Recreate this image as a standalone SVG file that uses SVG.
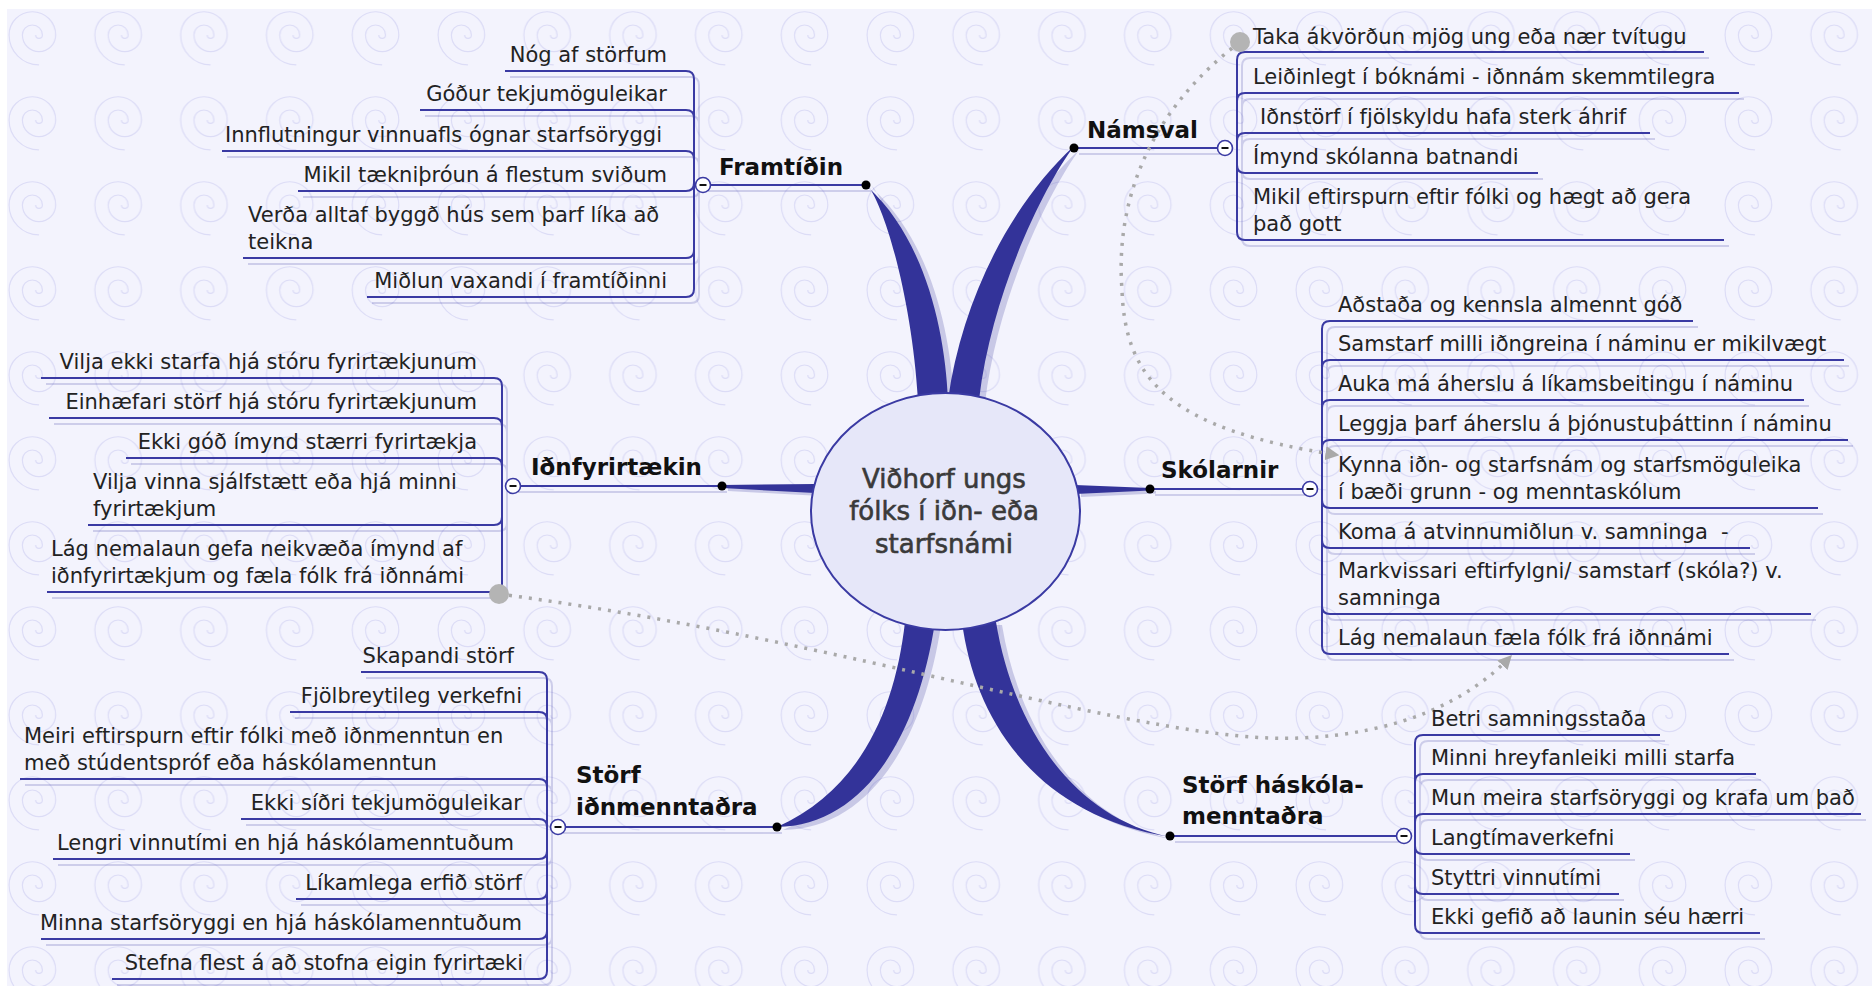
<svg xmlns="http://www.w3.org/2000/svg" xmlns:xlink="http://www.w3.org/1999/xlink" width="1872" height="986" viewBox="0 0 1872 986">
<style>
.sub{font-family:"DejaVu Sans","Liberation Sans",sans-serif;font-size:21px;fill:#222}
.topic{font-family:"DejaVu Sans","Liberation Sans",sans-serif;font-size:23px;font-weight:bold;fill:#111}
.ctr{font-family:"DejaVu Sans","Liberation Sans",sans-serif;font-size:26px;fill:#3a3a3a;text-anchor:middle;stroke:#3a3a3a;stroke-width:0.6}
.end{text-anchor:end}
.col{fill:#fff;stroke:#3a3aa3;stroke-width:1.6}
.minus{stroke:#111;stroke-width:2}
.dot{fill:#000}
.grey{fill:#b4b4b4}
.dotted{fill:none;stroke:#a9a9a9;stroke-width:3.5;stroke-dasharray:3 7}
</style>
<defs>
<pattern id="spir" patternUnits="userSpaceOnUse" x="-4" y="-7" width="85.8" height="85">
<path transform="translate(43,42) scale(-1.33,1.33)" d="M2.5,0 A2.5,2.5 0 0 1 -2.5,0 A7.5,7.5 0 0 1 12.5,0 A12.5,12.5 0 0 1 -12.5,0 A17.5,17.5 0 0 1 22.5,0 A22.5,22.5 0 0 1 0,22.5" fill="none" stroke="#dcdcf6" stroke-width="0.9"/>
</pattern>
<marker id="arr" viewBox="0 0 10 10" refX="9" refY="5" markerWidth="14" markerHeight="14" markerUnits="userSpaceOnUse" orient="auto">
<path d="M0,0 L10,5 L0,10 z" fill="#a9a9a9"/>
</marker>
</defs>
<rect x="7" y="9" width="1865" height="977" fill="#f3f3fd"/>
<rect x="7" y="9" width="1865" height="977" fill="url(#spir)"/>

<g id="connectors">
<use xlink:href="#branches" href="#branches" transform="translate(6,3)" opacity="0.22"/>
<g id="branches" fill="#333399">
<path d="M866,183 C885,205 912,300 918,400 L948,400 C945,330 925,240 868,187 Z"/>
<path d="M948,400 C962,300 1010,205 1074,146 C1045,185 992,290 979,400 Z"/>
<path d="M905,622 C895,710 860,790 777,827 C862,826 917,740 935,622 Z"/>
<path d="M962,622 C975,720 1035,815 1170,837 C1075,818 1014,730 996,622 Z"/>
<path d="M722,485 L815,484 L815,493 L722,488 Z"/>
<path d="M1075,485 L1150,488 L1150,490.5 L1075,494 Z"/>
</g>
<use xlink:href="#ulines" href="#ulines" transform="translate(5,6)" opacity="0.2"/>
<g id="ulines" fill="none" stroke="#3a3aa3" stroke-width="2">
<path d="M505,71 H686 Q694,71 694,79"/>
<path d="M420,110 H686 Q694,110 694,118"/>
<path d="M222,151 H686 Q694,151 694,159"/>
<path d="M298,191 H686 Q694,191 694,183"/>
<path d="M243,258 H686 Q694,258 694,250"/>
<path d="M367,297 H686 Q694,297 694,289"/>
<path d="M694,79 V289"/>
<path d="M703,185 H866"/>

<path d="M1237,60 Q1237,52 1245,52 H1704"/>
<path d="M1237,101 Q1237,93 1245,93 H1739"/>
<path d="M1237,141 Q1237,133 1245,133 H1650"/>
<path d="M1237,165 Q1237,173 1245,173 H1538"/>
<path d="M1237,232 Q1237,240 1245,240 H1724"/>
<path d="M1237,60 V232"/>
<path d="M1074,148 H1225"/>

<path d="M41,378 H494 Q502,378 502,386"/>
<path d="M49,418 H494 Q502,418 502,426"/>
<path d="M126,458 H494 Q502,458 502,466"/>
<path d="M88,525 H494 Q502,525 502,517"/>
<path d="M47,592 H494 Q502,592 502,584"/>
<path d="M502,386 V584"/>
<path d="M513,486 H722"/>

<path d="M1322,329 Q1322,321 1330,321 H1693"/>
<path d="M1322,368 Q1322,360 1330,360 H1844"/>
<path d="M1322,408 Q1322,400 1330,400 H1804"/>
<path d="M1322,448 Q1322,440 1330,440 H1848"/>
<path d="M1322,500 Q1322,508 1330,508 H1818"/>
<path d="M1322,540 Q1322,548 1330,548 H1750"/>
<path d="M1322,606 Q1322,614 1330,614 H1811"/>
<path d="M1322,646 Q1322,654 1330,654 H1729"/>
<path d="M1322,329 V646"/>
<path d="M1150,489 H1310"/>

<path d="M361,672 H539 Q547,672 547,680"/>
<path d="M290,712 H539 Q547,712 547,720"/>
<path d="M20,779 H539 Q547,779 547,787"/>
<path d="M241,819 H539 Q547,819 547,827"/>
<path d="M53,859 H539 Q547,859 547,851"/>
<path d="M296,899 H539 Q547,899 547,891"/>
<path d="M41,939 H539 Q547,939 547,931"/>
<path d="M112,979 H539 Q547,979 547,971"/>
<path d="M547,680 V971"/>
<path d="M558,827 H777"/>

<path d="M1415,743 Q1415,735 1423,735 H1660"/>
<path d="M1415,782 Q1415,774 1423,774 H1756"/>
<path d="M1415,822 Q1415,814 1423,814 H1861"/>
<path d="M1415,846 Q1415,854 1423,854 H1630"/>
<path d="M1415,886 Q1415,894 1423,894 H1619"/>
<path d="M1415,925 Q1415,933 1423,933 H1760"/>
<path d="M1415,743 V925"/>
<path d="M1170,836 H1404"/>
</g>
<path class="dotted" d="M1240,42 C1150,110 1115,200 1122,290 C1125,380 1170,430 1338,455" marker-end="url(#arr)"/>
<path class="dotted" d="M499,594 C850,640 1150,745 1300,738 C1400,734 1470,700 1511,656" marker-end="url(#arr)"/>
<circle class="grey" cx="1240" cy="42" r="10"/>
<circle class="grey" cx="499" cy="594" r="10"/>
<g id="handles">
<circle class="dot" cx="866" cy="185" r="4.5"/>
<circle class="dot" cx="1074" cy="148" r="4.5"/>
<circle class="dot" cx="722" cy="486" r="4.5"/>
<circle class="dot" cx="1150" cy="489" r="4.5"/>
<circle class="dot" cx="777" cy="827" r="4.5"/>
<circle class="dot" cx="1170" cy="836" r="4.5"/>
<circle class="col" cx="703" cy="185" r="7.5"/><path class="minus" d="M699.5,185 H706.5"/>
<circle class="col" cx="1225" cy="148" r="7.5"/><path class="minus" d="M1221.5,148 H1228.5"/>
<circle class="col" cx="513" cy="486" r="7.5"/><path class="minus" d="M509.5,486 H516.5"/>
<circle class="col" cx="1310" cy="489" r="7.5"/><path class="minus" d="M1306.5,489 H1313.5"/>
<circle class="col" cx="558" cy="827" r="7.5"/><path class="minus" d="M554.5,827 H561.5"/>
<circle class="col" cx="1404" cy="836" r="7.5"/><path class="minus" d="M1400.5,836 H1407.5"/>
</g>
</g>

<g id="center">
<ellipse cx="945.5" cy="511.5" rx="134.5" ry="118.5" fill="#e6e7f9" stroke="#3a3aa3" stroke-width="2"/>
<text class="ctr" x="944" y="488">Viðhorf ungs</text>
<text class="ctr" x="944" y="520">fólks í iðn- eða</text>
<text class="ctr" x="944" y="553">starfsnámi</text>
</g>

<g id="framtidin"><text class="topic" x="719" y="175">Framtíðin</text></g>
<g id="f1"><text class="sub end" x="667" y="62">Nóg af störfum</text></g>
<g id="f2"><text class="sub end" x="667" y="101">Góður tekjumöguleikar</text></g>
<g id="f3"><text class="sub end" x="662" y="142">Innflutningur vinnuafls ógnar starfsöryggi</text></g>
<g id="f4"><text class="sub end" x="667" y="182">Mikil tækniþróun á flestum sviðum</text></g>
<g id="f5"><text class="sub" x="248" y="222">Verða alltaf byggð hús sem þarf líka að</text><text class="sub" x="248" y="249">teikna</text></g>
<g id="f6"><text class="sub end" x="667" y="288">Miðlun vaxandi í framtíðinni</text></g>

<g id="namsval"><text class="topic" x="1087" y="138">Námsval</text></g>
<g id="n1"><text class="sub" x="1253" y="44">Taka ákvörðun mjög ung eða nær tvítugu</text></g>
<g id="n2"><text class="sub" x="1253" y="84">Leiðinlegt í bóknámi - iðnnám skemmtilegra</text></g>
<g id="n3"><text class="sub" x="1260" y="124">Iðnstörf í fjölskyldu hafa sterk áhrif</text></g>
<g id="n4"><text class="sub" x="1253" y="164">Ímynd skólanna batnandi</text></g>
<g id="n5"><text class="sub" x="1253" y="204">Mikil eftirspurn eftir fólki og hægt að gera</text><text class="sub" x="1253" y="231">það gott</text></g>

<g id="idnfyrirtaekin"><text class="topic" x="531" y="475">Iðnfyrirtækin</text></g>
<g id="i1"><text class="sub end" x="477" y="369">Vilja ekki starfa hjá stóru fyrirtækjunum</text></g>
<g id="i2"><text class="sub end" x="477" y="409">Einhæfari störf hjá stóru fyrirtækjunum</text></g>
<g id="i3"><text class="sub end" x="477" y="449">Ekki góð ímynd stærri fyrirtækja</text></g>
<g id="i4"><text class="sub" x="93" y="489">Vilja vinna sjálfstætt eða hjá minni</text><text class="sub" x="93" y="516">fyrirtækjum</text></g>
<g id="i5"><text class="sub" x="51" y="556">Lág nemalaun gefa neikvæða ímynd af</text><text class="sub" x="51" y="583">iðnfyrirtækjum og fæla fólk frá iðnnámi</text></g>

<g id="skolarnir"><text class="topic" x="1161" y="478">Skólarnir</text></g>
<g id="s1"><text class="sub" x="1338" y="312">Aðstaða og kennsla almennt góð</text></g>
<g id="s2"><text class="sub" x="1338" y="351">Samstarf milli iðngreina í náminu er mikilvægt</text></g>
<g id="s3"><text class="sub" x="1338" y="391">Auka má áherslu á líkamsbeitingu í náminu</text></g>
<g id="s4"><text class="sub" x="1338" y="431">Leggja þarf áherslu á þjónustuþáttinn í náminu</text></g>
<g id="s5"><text class="sub" x="1338" y="472">Kynna iðn- og starfsnám og starfsmöguleika</text><text class="sub" x="1338" y="499">í bæði grunn - og menntaskólum</text></g>
<g id="s6"><text class="sub" x="1338" y="539" style="white-space:pre">Koma á atvinnumiðlun v. samninga  -</text></g>
<g id="s7"><text class="sub" x="1338" y="578">Markvissari eftirfylgni/ samstarf (skóla?) v.</text><text class="sub" x="1338" y="605">samninga</text></g>
<g id="s8"><text class="sub" x="1338" y="645">Lág nemalaun fæla fólk frá iðnnámi</text></g>

<g id="storf-idn"><text class="topic" x="576" y="783">Störf</text><text class="topic" x="576" y="815">iðnmenntaðra</text></g>
<g id="si1"><text class="sub end" x="514" y="663">Skapandi störf</text></g>
<g id="si2"><text class="sub end" x="522" y="703">Fjölbreytileg verkefni</text></g>
<g id="si3"><text class="sub" x="24" y="743">Meiri eftirspurn eftir fólki með iðnmenntun en</text><text class="sub" x="24" y="770">með stúdentspróf eða háskólamenntun</text></g>
<g id="si4"><text class="sub end" x="522" y="810">Ekki síðri tekjumöguleikar</text></g>
<g id="si5"><text class="sub end" x="514" y="850">Lengri vinnutími en hjá háskólamenntuðum</text></g>
<g id="si6"><text class="sub end" x="522" y="890">Líkamlega erfið störf</text></g>
<g id="si7"><text class="sub end" x="522" y="930">Minna starfsöryggi en hjá háskólamenntuðum</text></g>
<g id="si8"><text class="sub end" x="523" y="970">Stefna flest á að stofna eigin fyrirtæki</text></g>

<g id="storf-hask"><text class="topic" x="1182" y="793">Störf háskóla-</text><text class="topic" x="1182" y="824">menntaðra</text></g>
<g id="sh1"><text class="sub" x="1431" y="726">Betri samningsstaða</text></g>
<g id="sh2"><text class="sub" x="1431" y="765">Minni hreyfanleiki milli starfa</text></g>
<g id="sh3"><text class="sub" x="1431" y="805">Mun meira starfsöryggi og krafa um það</text></g>
<g id="sh4"><text class="sub" x="1431" y="845">Langtímaverkefni</text></g>
<g id="sh5"><text class="sub" x="1431" y="885">Styttri vinnutími</text></g>
<g id="sh6"><text class="sub" x="1431" y="924">Ekki gefið að launin séu hærri</text></g>
</svg>
